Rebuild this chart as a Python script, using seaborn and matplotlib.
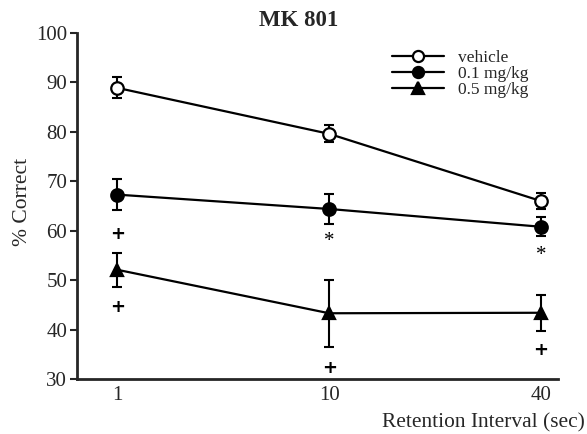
import matplotlib
matplotlib.use("Agg")
import matplotlib.pyplot as plt
import seaborn as sns
import pandas as pd
from matplotlib.lines import Line2D

sns.set_style("ticks")
plt.rcParams['font.family'] = ['Liberation Serif', 'DejaVu Serif']

intervals = ["1", "10", "40"]
vehicle = [88.9, 79.6, 66.0]
vehicle_err = [2.1, 1.7, 1.6]
low_dose = [67.3, 64.4, 60.8]
low_err = [3.2, 3.0, 1.9]
high_dose = [52.1, 43.3, 43.4]
high_err = [3.4, 6.8, 3.6]
series_names = ["vehicle", "0.1 mg/kg", "0.5 mg/kg"]

# significance marks: (interval, y, symbol)
sig_x = ["1", "1", "10", "10", "40", "40"]
sig_y = [59.4, 44.6, 57.9, 32.3, 54.9, 35.8]
sig_txt = ["+", "+", "*", "+", "*", "+"]

df = pd.DataFrame({
    "interval": intervals * 3,
    "value": vehicle + low_dose + high_dose,
    "err": vehicle_err + low_err + high_err,
    "group": [series_names[0]] * 3 + [series_names[1]] * 3 + [series_names[2]] * 3,
})

fig = plt.figure(figsize=(5.87, 4.34), dpi=100)
ax = fig.add_axes([77 / 587, 1 - 379 / 434, (558 - 77) / 587, (379 - 33) / 434])

styles = {
    "vehicle": dict(marker="o", markerfacecolor="white"),
    "0.1 mg/kg": dict(marker="o", markerfacecolor="black"),
    "0.5 mg/kg": dict(marker="^", markerfacecolor="black"),
}
handles = []
for name in series_names:
    sub = df[df["group"] == name]
    st = styles[name]
    ax.errorbar(sub["interval"], sub["value"], yerr=sub["err"], fmt="none",
                ecolor="black", elinewidth=1.5, capsize=3.5, capthick=1.5, zorder=2)
    sns.lineplot(x=sub["interval"], y=sub["value"], ax=ax, color="black",
                 linewidth=1.6, markersize=9, markeredgecolor="black",
                 markeredgewidth=1.6, zorder=3, sort=False, **st)
    handles.append(Line2D([], [], color="black", linewidth=1.6, markersize=8,
                          markeredgecolor="black", markeredgewidth=1.6, **st))

for xs, ys, t in zip(sig_x, sig_y, sig_txt):
    if t == "+":
        ax.text(xs, ys, t, ha="center", va="center", fontsize=13,
                fontweight="bold", color="black", family="DejaVu Sans")
    else:
        ax.text(xs, ys, t, ha="center", va="center", fontsize=15,
                color="black")

ax.set_ylim(30, 100)
ax.set_xlim(-0.19, 2.08)
ax.set_yticks([30, 40, 50, 60, 70, 80, 90, 100])
ax.tick_params(axis="y", direction="out", length=5, width=1.5, labelsize=15, pad=2)
ax.tick_params(axis="x", length=0, labelsize=15, pad=5)
for s in ["top", "right"]:
    ax.spines[s].set_visible(False)
for s in ["left", "bottom"]:
    ax.spines[s].set_linewidth(2)
ax.set_xlabel("")
ax.set_ylabel("")

fig.text(23 / 587, 1 - 202 / 434, "% Correct", ha="center", va="center",
         rotation=90, fontsize=15.5)
fig.text(299 / 587, 1 - 20 / 434, "MK 801", ha="center", va="center",
         fontsize=16.5, fontweight="bold")
fig.text(585 / 587, 1 - 423 / 434, "Retention Interval (sec)", ha="right",
         va="center", fontsize=15.4)

ax.legend(handles, series_names, loc="upper left", bbox_to_anchor=(0.630, 0.985),
          frameon=False, fontsize=12.5, handlelength=3.0, labelspacing=-0.02,
          handletextpad=0.8, borderaxespad=0.3)

fig.savefig("out.png", dpi=100)
